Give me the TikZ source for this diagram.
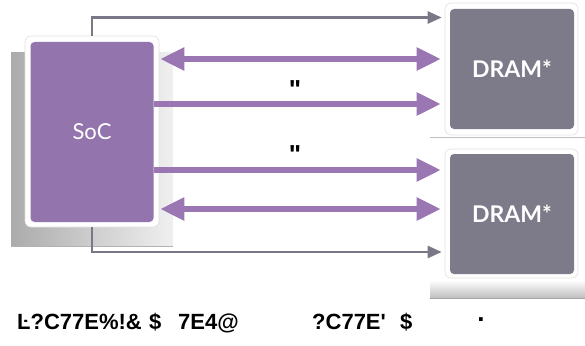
\documentclass[tikz,border=0pt]{standalone}
\usepackage{fontspec}
\setmainfont{Liberation Sans}[Ligatures=TeXOff]
\newfontfamily\rawfont{Liberation Sans}[Ligatures=TeXOff]
\newfontfamily\latofont{Lato}
\usetikzlibrary{arrows.meta}
\definecolor{socpurple}{HTML}{9474AD}
\definecolor{arrowpurple}{HTML}{9A76B2}
\definecolor{dramgray}{HTML}{7D7A8A}
\definecolor{linegray}{HTML}{7A7787}
\tikzset{
  frame/.style={draw=black!12, line width=0.6pt, fill=white, rounded corners=6pt, inner sep=0pt},
  socbox/.style={fill=socpurple, rounded corners=4pt, inner sep=0pt, text=white, font=\latofont\fontsize{22}{22}\selectfont},
  drambox/.style={fill=dramgray, rounded corners=4pt, inner sep=0pt, text=white, font=\latofont\bfseries\fontsize{23}{23}\selectfont},
  purparrow/.style={draw=arrowpurple, line width=5.5pt, -{Triangle[width=22pt,length=24pt]}},
  purdouble/.style={draw=arrowpurple, line width=5.5pt, {Triangle[width=22pt,length=24pt]}-{Triangle[width=22pt,length=24pt]}},
  grayarrow/.style={draw=linegray, line width=2.5pt, -{Triangle[width=12pt,length=14pt]}},
  qmark/.style={font=\rawfont\bfseries\fontsize{26}{26}\selectfont, inner sep=0pt},
  bottomtxt/.style={font=\rawfont\bfseries\fontsize{22}{22}\selectfont, inner sep=0pt, anchor=base west}
}
\begin{document}
\begin{tikzpicture}[x=1pt,y=-1pt]
\useasboundingbox (0,0) rectangle (585,345);
% shadows
\shade[left color=black!33, right color=black!6] (11,52) rectangle (173,246);
\draw[black!30, line width=0.6pt] (11,246) -- (173,246);
\draw[black!25, line width=0.8pt] (430,137) -- (585,137);
\shade[top color=white, bottom color=black!25] (430,280) rectangle (585,298);
\draw[black!35, line width=0.8pt] (430,298) -- (585,298);
% SoC
\node[frame, minimum width=134pt, minimum height=191pt] (socframe) at (92,131.5) {};
\node[socbox, minimum width=123pt, minimum height=180pt] (soc) at (92,132) {SoC};
% DRAMs
\node[frame, minimum width=133pt, minimum height=132pt] (d1frame) at (511.5,69) {};
\node[drambox, minimum width=124pt, minimum height=120pt] (d1) at (512,69) {DRAM*};
\node[frame, minimum width=133pt, minimum height=129pt] (d2frame) at (511.5,213.5) {};
\node[drambox, minimum width=124pt, minimum height=120pt] (d2) at (512,214) {DRAM*};
% gray connectors
\draw[grayarrow, shorten >=3pt] (socframe.north) |- (d1frame.west |- 0,17.5);
\draw[grayarrow, shorten >=3pt] (socframe.south) |- (d2frame.west |- 0,252);
% purple arrows
\draw[purdouble, shorten <=1pt, shorten >=4pt] (socframe.east |- 0,59) -- (d1frame.west |- 0,59);
\draw[purparrow, shorten >=4pt] (soc.east |- 0,104) -- (d1frame.west |- 0,104);
\draw[purparrow, shorten >=4pt] (soc.east |- 0,170) -- (d2frame.west |- 0,170);
\draw[purdouble, shorten <=1pt, shorten >=4pt] (socframe.east |- 0,209) -- (d2frame.west |- 0,209);
% marks
\node[qmark] (q1) at (295,90) {\char"22};
\node[qmark] (q2) at (295,155) {\char"22};
% bottom text
\node[bottomtxt] (b1) at (17,329) {Ŀ?C77E\%!\&};
\node[bottomtxt] (b2) at (149,329) {\$};
\node[bottomtxt] (b3) at (178,329) {7E4@};
\node[bottomtxt] (b4) at (312,329) {?C77E\char"27};
\node[bottomtxt] (b5) at (400,329) {\$};
\node[qmark] (b6) at (481,320) {.};
\end{tikzpicture}
\end{document}
